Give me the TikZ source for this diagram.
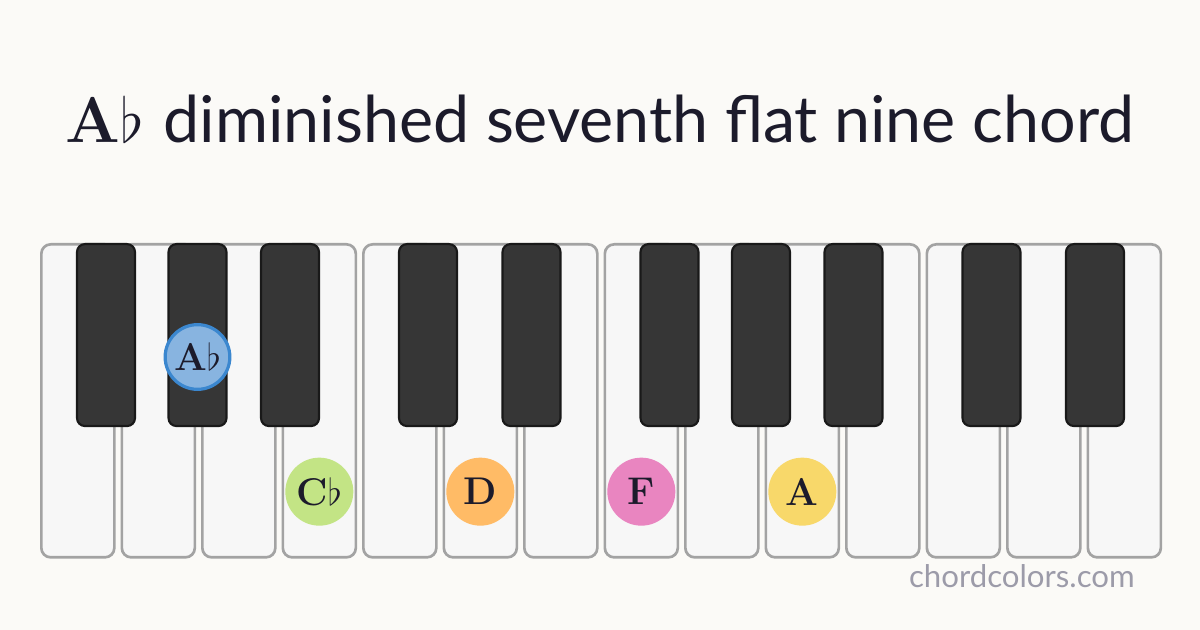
\documentclass[tikz,border=0pt]{standalone}
\usepackage{amssymb}
\usepackage{fontspec}
\setsansfont{Lato}
\usetikzlibrary{calc}

\newcommand{\flatsym}{\resizebox{!}{.72em}{$\flat$}}

\definecolor{paper}{HTML}{FBFAF7}
\definecolor{keywhite}{HTML}{F7F7F7}
\definecolor{keyedge}{HTML}{A3A3A3}
\definecolor{keyblack}{HTML}{363636}
\definecolor{inkdark}{HTML}{1C1B2B}
\definecolor{sitegray}{HTML}{9C9BA9}
\definecolor{noteblue}{HTML}{88B4E0}
\definecolor{noteblueedge}{HTML}{3B87CF}
\definecolor{notegreen}{HTML}{C3E485}
\definecolor{noteorange}{HTML}{FFBB66}
\definecolor{notepink}{HTML}{E985C0}
\definecolor{noteyellow}{HTML}{F8D86A}

\tikzset{
  whitekey/.style={rectangle, anchor=north west, fill=keywhite, draw=keyedge,
    line width=2pt, rounded corners=7pt, minimum width=54.75pt, minimum height=234.75pt},
  blackkey/.style={rectangle, anchor=north, fill=keyblack, draw=black!90,
    line width=1.6pt, rounded corners=6pt, minimum width=43.5pt, minimum height=136.5pt},
  note/.style={circle, minimum size=51pt, inner sep=0pt, text=inkdark,
    font=\fontsize{29}{29}\selectfont\rmfamily\bfseries},
}

\begin{document}
\begin{tikzpicture}[x=0.75pt,y=-0.75pt]
\fill[paper] (0,0) rectangle (1200,630);
\useasboundingbox (0,0) rectangle (1200,630);

% title
\node[anchor=base, text=inkdark, inner sep=0pt] (title) at (600,143)
  {\fontsize{48.4}{52}\selectfont{\rmfamily\bfseries A\flatsym} \sffamily diminished seventh flat nine chord};

% keyboard
\foreach \i in {0,...,13}
  \node[whitekey] (w\i) at ({40+80.5*\i},243) {};
\foreach \i/\s in {1/-11, 2/0, 3/12, 5/-11, 6/12, 8/-11, 9/0, 10/12, 12/-11, 13/12}
  \node[blackkey] (b\i) at ({36.5+80.5*\i+\s},243) {};

% chord tones
\node[note, fill=noteblue, draw=noteblueedge, line width=2.4pt, minimum size=48.5pt]
  (aflat) at ($(b2.north)+(0,114)$) {A\flatsym};
\node[note, fill=notegreen] (cflat) at ($(w3.south)+(0,-67)$) {C\flatsym};
\node[note, fill=noteorange] (dnat) at ($(w5.south)+(0,-67)$) {D};
\node[note, fill=notepink] (fnat) at ($(w7.south)+(0,-67)$) {F};
\node[note, fill=noteyellow] (anat) at ($(w9.south)+(0,-67)$) {A};

\node[anchor=base east, text=sitegray, inner sep=0pt, font=\sffamily\fontsize{23.4}{24}\selectfont]
  (site) at (1135,588) {chordcolors.com};
\end{tikzpicture}
\end{document}
